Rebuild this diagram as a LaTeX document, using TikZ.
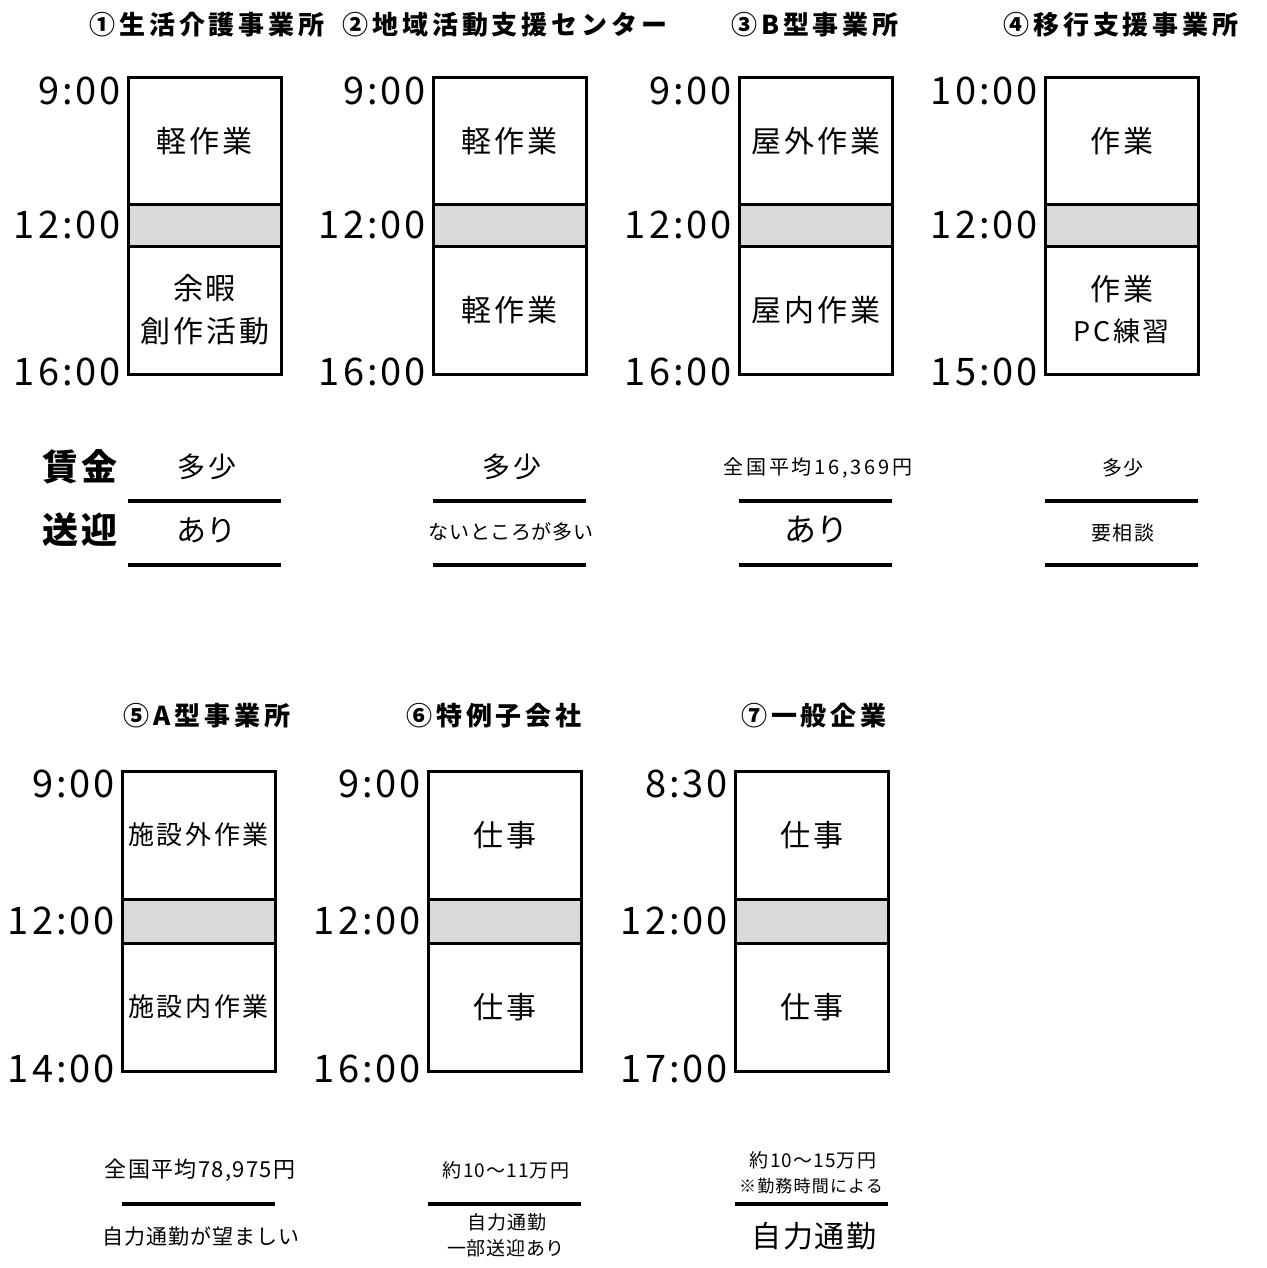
\documentclass[tikz,border=0pt]{standalone}
\usepackage{fontspec}
\setmainfont{Noto Sans CJK JP}
\definecolor{lunchgray}{RGB}{217,217,217}
\newcommand\fs[1]{\fontsize{#1}{#1}\selectfont}
\newcommand\ls[1]{\addfontfeatures{LetterSpace=#1}}
\newcommand\sched[9]{%
  \node[part, minimum height=#4] (#1top) at (#2,#3) {#6};
  \node[lunch, minimum height=#5] (#1lunch) at (#1top.south west) {};
  \node[part, minimum height=128] (#1bot) at (#1lunch.south west) {#7};
  \node[tlabel] (#1ta) at ([xshift=-7pt,yshift=-13pt]#1top.north west) {#8};
  \node[tlabel] (#1tb) at ([xshift=-7pt]#1lunch.west) {12:00};
  \node[tlabel] (#1tc) at ([xshift=-7pt,yshift=2pt]#1bot.south west) {#9};
}
\begin{document}
\begin{tikzpicture}[x=1pt,y=-1pt,
  every node/.style={inner sep=0pt, outer sep=0pt},
  part/.style={draw, line width=3pt, fill=white, minimum width=153pt, anchor=north west, align=center, font=\fs{30}\ls{10}},
  lunch/.style={draw, line width=3pt, fill=lunchgray, minimum width=153pt, anchor=north west},
  tlabel/.style={anchor=east, font=\fs{38}\ls{8}},
  ttl/.style={font=\fs{26}\bfseries\ls{15}},
  head/.style={font=\fs{36}\bfseries\ls{10}},
  info/.style={align=center},
  sepline/.style={line width=4pt}
]
\useasboundingbox[fill=white] (0,0) rectangle (1266,1268);

% titles
\node[ttl] (h1) at (207,25) {①生活介護事業所};
\node[ttl] (h2) at (505,25) {②地域活動支援センター};
\node[ttl] (h3) at (815,25) {③B型事業所};
\node[ttl] (h4) at (1121,25) {④移行支援事業所};
\node[ttl] (h5) at (207,716) {⑤A型事業所};
\node[ttl] (h6) at (494,716) {⑥特例子会社};
\node[ttl] (h7) at (814,716) {⑦一般企業};

% schedules
\sched{a}{128}{78}{126}{42}{軽作業}{余暇\\[13pt]創作活動}{9:00}{16:00}
\sched{b}{433}{78}{126}{42}{軽作業}{軽作業}{9:00}{16:00}
\sched{c}{739}{78}{126}{42}{屋外作業}{屋内作業}{9:00}{16:00}
\sched{d}{1045}{78}{126}{42}{作業}{作業\\[11pt]{\fs{27}PC練習}}{10:00}{15:00}
\sched{e}{122}{771}{128}{44}{{\fs{26}施設外作業}}{{\fs{26}施設内作業}}{9:00}{14:00}
\sched{f}{428}{771}{128}{44}{仕事}{仕事}{9:00}{16:00}
\sched{g}{735}{771}{128}{44}{仕事}{仕事}{8:30}{17:00}

% row headings
\node[head] (wage) at (80,467) {賃金};
\node[head] (pick) at (80,530) {送迎};

% row line levels
\coordinate (r1) at (0,501);
\coordinate (r2) at (0,565);
\coordinate (r3) at (0,1204);

% top row info
\node[info, font=\fs{28}\ls{12}] (aw) at (207,467) {多少};
\node[info, font=\fs{28}\ls{12}] (bw) at (512,467) {多少};
\node[info, font=\fs{20}\ls{14}] (cw) at (818,468) {全国平均16,369円};
\node[info, font=\fs{20}\ls{6}] (dw) at (1123,468) {多少};
\node[info, font=\fs{30}] (ap) at (206,530) {あり};
\node[info, font=\fs{20}\ls{3}] (bp) at (511,532) {ないところが多い};
\node[info, font=\fs{32}] (cp) at (816,530) {あり};
\node[info, font=\fs{20}\ls{6}] (dp) at (1123,533) {要相談};

\foreach \b in {a,b,c,d}{
  \draw[sepline] (\b bot.west |- r1) -- (\b bot.east |- r1);
  \draw[sepline] (\b bot.west |- r2) -- (\b bot.east |- r2);
}

% bottom row info
\node[info, font=\fs{22}\ls{6}] (ew) at (200,1170) {全国平均78,975円};
\node[info, font=\fs{19}\ls{6}] (fw) at (506,1170) {約10〜11万円};
\node[info, font=\fs{19}\ls{6}] (gw) at (813,1160) {約10〜15万円};
\node[info, font=\fs{17}\ls{7}] (gw2) at (811,1186) {※勤務時間による};
\node[info, font=\fs{21}\ls{5}] (ep) at (201,1236) {自力通勤が望ましい};
\node[info, font=\fs{19}\ls{6}] (fp) at (507,1222) {自力通勤};
\node[info, font=\fs{19}\ls{4}] (fp2) at (506,1248) {一部送迎あり};
\node[info, font=\fs{30}\ls{6}] (gp) at (814,1236) {自力通勤};

\foreach \b in {e,f,g}{
  \draw[sepline] (\b bot.west |- r3) -- (\b bot.east |- r3);
}
\end{tikzpicture}
\end{document}
